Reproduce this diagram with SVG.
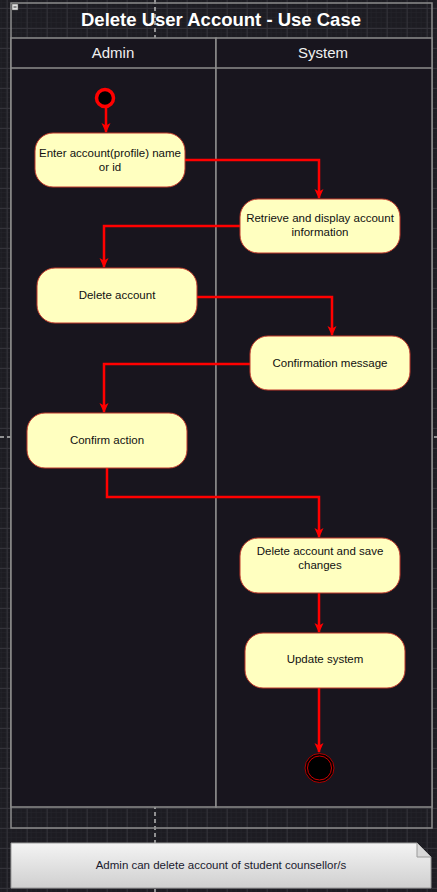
<svg xmlns="http://www.w3.org/2000/svg" width="437" height="892" viewBox="0 0 437 892">
<defs>
<pattern id="gmin" width="5" height="5" patternUnits="userSpaceOnUse" x="1.7" y="3">
<path d="M5,0 V5 M0,5 H5" fill="none" stroke="#26252b" stroke-width="1"/>
</pattern>
<pattern id="gmaj" width="20" height="20" patternUnits="userSpaceOnUse" x="6.7" y="8">
<path d="M0.5,0 V20 M0,0.5 H20" fill="none" stroke="#34333a" stroke-width="1"/>
</pattern>
<linearGradient id="noteg" x1="0" y1="0" x2="0" y2="1">
<stop offset="0" stop-color="#f4f4f4"/>
<stop offset="1" stop-color="#cfcfcf"/>
</linearGradient>
<marker id="arr" viewBox="0 0 10 10" refX="9" refY="5" markerWidth="10" markerHeight="10" markerUnits="userSpaceOnUse" orient="auto">
<path d="M0,0.5 L10,5 L0,9.5 L2.5,5 Z" fill="#ff0000"/>
</marker>
<style>
.lane{fill:#18151e;stroke:#8c8c8c;stroke-width:1.5}
.frame{fill:none;stroke:#8c8c8c;stroke-width:1.5}
.act{fill:#ffffc0;stroke:#c0392b;stroke-width:1}
.t{font-family:"Liberation Sans",Arial,sans-serif;font-size:11.5px;fill:#111111;text-anchor:middle}
.hdr{font-family:"Liberation Sans",Arial,sans-serif;font-size:15px;fill:#f0f0f0;text-anchor:middle}
.title{font-family:"Liberation Sans",Arial,sans-serif;font-size:18.5px;font-weight:bold;fill:#ffffff;text-anchor:middle}
.edge{fill:none;stroke:#ff0000;stroke-width:2.5;marker-end:url(#arr)}
.pb{stroke:#b8b8b8;stroke-width:1.5;stroke-dasharray:4,3;fill:none}
</style>
</defs>
<rect x="0" y="0" width="437" height="892" fill="#1d1c22"/>
<rect x="0" y="0" width="437" height="892" fill="url(#gmin)"/>
<rect x="0" y="0" width="437" height="892" fill="url(#gmaj)"/>
<path class="pb" d="M155,0 V892 M0,437 H437"/>

<g id="pool">
<rect class="frame" x="11" y="3" width="421" height="825"/>
<rect x="12" y="4" width="6" height="6" fill="#e0e0e0" stroke="#555" stroke-width="0.5"/>
<path d="M13.5,7 H16.5" stroke="#333" stroke-width="1"/>
<text class="title" x="221" y="26">Delete User Account - Use Case</text>
</g>
<g id="lane-admin">
<rect class="lane" x="11" y="38" width="205" height="769"/>
<line x1="11" y1="68" x2="216" y2="68" stroke="#8c8c8c" stroke-width="1.5"/>
<text class="hdr" x="113" y="58">Admin</text>
</g>
<g id="lane-system">
<rect class="lane" x="216" y="38" width="216" height="769"/>
<line x1="216" y1="68" x2="432" y2="68" stroke="#8c8c8c" stroke-width="1.5"/>
<text class="hdr" x="323" y="58">System</text>
</g>

<g id="connectors">
<path class="edge" d="M106,108 V132"/>
<path class="edge" d="M185,160 H319 V198"/>
<path class="edge" d="M240,226 H104 V267"/>
<path class="edge" d="M197,297 H332 V335"/>
<path class="edge" d="M250,364 H104 V412"/>
<path class="edge" d="M107,468 V497 H319 V537"/>
<path class="edge" d="M319,593 V632"/>
<path class="edge" d="M319,688 V752"/>
</g>

<g id="start">
<circle cx="105" cy="98" r="8.5" fill="#000" stroke="#ff0000" stroke-width="3.5"/>
</g>
<g id="n1">
<rect class="act" x="35" y="133" width="150" height="54" rx="18"/>
<text class="t" x="110" y="157">Enter account(profile) name</text>
<text class="t" x="110" y="171">or id</text>
</g>
<g id="n2">
<rect class="act" x="240" y="199" width="160" height="54" rx="18"/>
<text class="t" x="320" y="222">Retrieve and display account</text>
<text class="t" x="320" y="236">information</text>
</g>
<g id="n3">
<rect class="act" x="37" y="268" width="160" height="55" rx="18"/>
<text class="t" x="117" y="299">Delete account</text>
</g>
<g id="n4">
<rect class="act" x="250" y="336" width="160" height="54" rx="18"/>
<text class="t" x="330" y="367">Confirmation message</text>
</g>
<g id="n5">
<rect class="act" x="27" y="413" width="160" height="55" rx="18"/>
<text class="t" x="107" y="444">Confirm action</text>
</g>
<g id="n6">
<rect class="act" x="240" y="538" width="160" height="55" rx="18"/>
<text class="t" x="320" y="555">Delete account and save</text>
<text class="t" x="320" y="569">changes</text>
</g>
<g id="n7">
<rect class="act" x="245" y="633" width="160" height="55" rx="18"/>
<text class="t" x="325" y="663">Update system</text>
</g>
<g id="end">
<circle cx="319.5" cy="768" r="14.5" fill="#000" stroke="#b00000" stroke-width="1"/>
<circle cx="319.5" cy="768" r="12" fill="#000" stroke="#d00000" stroke-width="1"/>
</g>
<g id="note">
<path d="M11,843 H417 L431,857 V888 H11 Z" fill="url(#noteg)" stroke="#9a9a9a" stroke-width="1"/>
<path d="M417,843 V857 H431" fill="#d8d8d8" stroke="#9a9a9a" stroke-width="1"/>
<text class="t" x="221" y="869" style="fill:#1a1a2e">Admin can delete account of student counsellor/s</text>
</g>
</svg>
